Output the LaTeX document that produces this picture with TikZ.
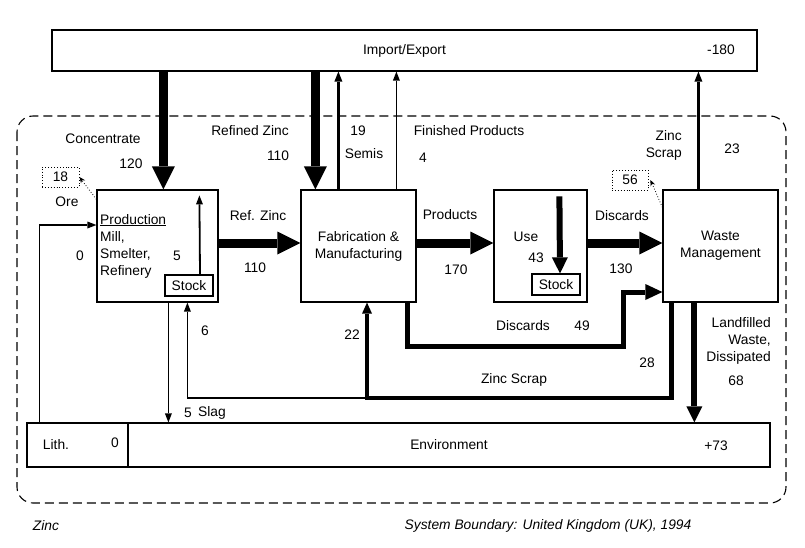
\documentclass[tikz,border=0pt]{standalone}
\usepackage{fontspec}
\setmainfont{Liberation Sans}
\usetikzlibrary{arrows.meta}
\begin{document}
\begin{tikzpicture}[x=1pt,y=-1pt,
  every node/.style={font=\fontsize{13.8pt}{17pt}\selectfont, inner sep=0pt},
  box/.style={draw, line width=1.2pt, fill=white, inner sep=0pt},
  dotbox/.style={draw, dotted, line width=0.9pt, inner sep=0pt},
  arrBig/.style={line width=9pt, -{Triangle[width=23pt,length=23pt,line width=0pt]}},
  arrMid/.style={line width=6pt, -{Triangle[width=16pt,length=16pt,line width=0pt]}},
  arrDisc/.style={line width=5pt, -{Triangle[width=16pt,length=17pt,line width=0pt]}},
  arrScrap/.style={line width=4.5pt, -{Triangle[width=10pt,length=11pt,line width=0pt]}},
  arrSemi/.style={line width=2.5pt, -{Triangle[width=8pt,length=10pt,line width=0pt]}},
  arrThin/.style={line width=1.8pt, -{Triangle[width=7pt,length=9pt,line width=0pt]}},
  arrDot/.style={dotted, line width=0.8pt, -{Stealth[width=5pt,length=6pt]}},
  capt/.style={font=\fontsize{13.8pt}{17pt}\selectfont\itshape}
]
\useasboundingbox (0,0) rectangle (805,547);
\fill[white] (0,0) rectangle (805,547);

% system boundary
\draw[dash pattern=on 9pt off 5pt, line width=1.1pt, rounded corners=16pt] (17,116) rectangle (786,503);

% boxes
\node[box, minimum width=705pt, minimum height=41pt] (ie) at (404.5,50.5) {Import/Export};
\node[box, minimum width=121pt, minimum height=112pt] (prod) at (157.5,246) {};
\node[box, minimum width=48pt, minimum height=21pt] (pstock) at (189,285.5) {Stock};
\node[box, minimum width=115pt, minimum height=112pt, align=center] (fab) at (358.5,246) {Fabrication \&\\Manufacturing};
\node[box, minimum width=93pt, minimum height=112pt] (use) at (540.5,246) {};
\node[box, minimum width=48pt, minimum height=21pt] (ustock) at (556,284.5) {Stock};
\node[box, minimum width=115pt, minimum height=112pt, align=center] (wm) at (720.5,246) {Waste\\Management};
\node[box, minimum width=101pt, minimum height=44pt] (lith) at (77.5,445) {};
\node[box, minimum width=642pt, minimum height=44pt] (env) at (449,445) {Environment};
\node[dotbox, minimum width=37pt, minimum height=20pt] (ore) at (60.5,177) {18};
\node[dotbox, minimum width=36pt, minimum height=20pt] (b56) at (630,180) {56};

% box texts
\node (tIE) at (721,50) {-180};
\node[align=left, anchor=west] (tProd) at (100,246) {\underline{Production}\\Mill,\\Smelter,\\Refinery};
\node (tP5) at (177,256) {5};
\node (tUse) at (526,237) {Use};
\node (tU43) at (536,258) {43};
\node (tLith) at (56,445) {Lith.};
\node (tL0) at (115,443) {0};
\node (tEnv) at (716,446) {+73};

% internal stock arrows
\draw[arrThin] ([xshift=11pt]pstock.north) -- ([xshift=103pt,yshift=-6pt]prod.north west);
\draw[arrMid] ([xshift=66pt,yshift=-7pt]use.north west) -- ([xshift=4pt]ustock.north);

% flows from / to import-export
\draw[arrBig] ([xshift=112pt]ie.south west) -- ([xshift=67pt]prod.north west);
\draw[arrBig] ([xshift=264pt]ie.south west) -- ([xshift=15pt]fab.north west);
\draw[arrSemi] ([xshift=38pt]fab.north west) -- ([xshift=287pt]ie.south west);
\draw[arrThin] ([xshift=96pt]fab.north west) -- ([xshift=345pt]ie.south west);
\draw[arrSemi,line width=3pt] ([xshift=36pt]wm.north west) -- ([xshift=647pt]ie.south west);

% main horizontal flows
\draw[arrBig] ([yshift=3pt]prod.east) -- ([yshift=3pt]fab.west);
\draw[arrBig] ([yshift=3pt]fab.east) -- ([yshift=3pt]use.west);
\draw[arrBig] ([yshift=3pt]use.east) -- ([yshift=3pt]wm.west);

% lithosphere to production
\draw[arrThin] ([xshift=13pt]lith.north west) |- ([yshift=21pt]prod.west);

% slag
\draw[arrThin] ([xshift=72pt]prod.south west) coordinate (slagTop) -- (slagTop |- env.north);

% discards 49
\coordinate (dj) at (623,346);
\draw[arrDisc] ([xshift=-9pt]fab.south east) |- (dj) |- ([yshift=-46pt]wm.west);

% zinc scrap 28 / 22 / 6
\coordinate (zs) at (367,398);
\draw[arrScrap] ([xshift=9pt]wm.south west) |- (zs) -- (zs |- fab.south);
\draw[arrThin] (zs) -| ([xshift=91pt]prod.south west);

% landfilled
\draw[arrMid] ([xshift=32pt]wm.south west) coordinate (lfTop) -- (lfTop |- env.north);

% dotted stock-change markers
\draw[arrDot] ([yshift=-10pt]prod.north west) -- (ore.east);
\draw[arrDot] ([yshift=-18pt]wm.north west) -- ([xshift=2pt]b56.east);

% flow labels
\node (lConc) at (103,139) {Concentrate};
\node (lConcV) at (131,164) {120};
\node (lRZ) at (250,131) {Refined Zinc};
\node (lRZV) at (278,156) {110};
\node (lSemV) at (358,131) {19};
\node (lSem) at (364,154) {Semis};
\node (lFP) at (469,131) {Finished Products};
\node (lFPV) at (423,158) {4};
\node[align=right, anchor=east] (lZS) at (682,145) {Zinc\\Scrap};
\node (lZSV) at (732,149) {23};
\node (lOre) at (67,202) {Ore};
\node (lOreV) at (80,256) {0};
\node (lRef) at (258,216) {Ref. Zinc};
\node (lRefV) at (255,268) {110};
\node (lProd) at (450,215) {Products};
\node (lProdV) at (456,270) {170};
\node (lDis) at (622,216) {Discards};
\node (lDisV) at (621,269) {130};
\node (lDis2) at (523,326) {Discards};
\node (lDis2V) at (582,326) {49};
\node (l6) at (205,331) {6};
\node (l22) at (352,335) {22};
\node (l28) at (647,363) {28};
\node (lZS2) at (514,380) {Zinc Scrap};
\node[align=right, anchor=east] (lLand) at (771,341) {Landfilled\\Waste,\\Dissipated};
\node (lLandV) at (736,381) {68};
\node (lSlagV) at (188,413) {5};
\node (lSlag) at (212,413) {Slag};

% captions
\node[capt] (cZinc) at (46,526) {Zinc};
\node[capt] (cSys) at (548,526) {System Boundary: United Kingdom (UK), 1994};
\end{tikzpicture}
\end{document}
